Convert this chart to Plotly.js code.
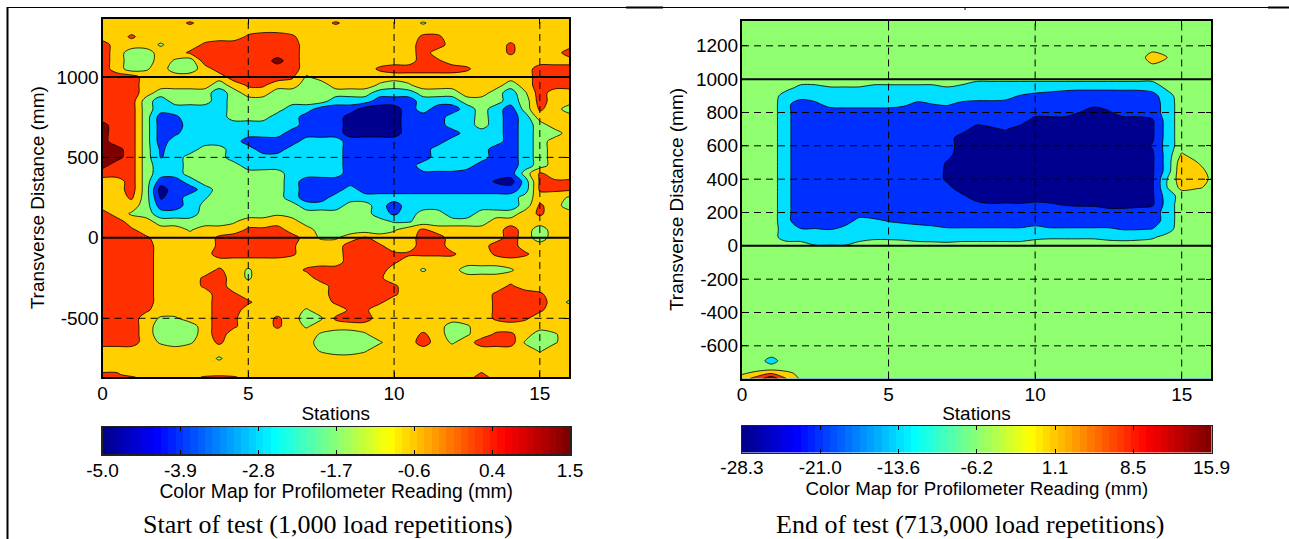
<!DOCTYPE html>
<html><head><meta charset="utf-8">
<script src="https://cdn.plot.ly/plotly-3.0.1.min.js"></script>
<style>html,body{margin:0;padding:0;background:#fff}#c{width:1289px;height:539px}</style></head>
<body><div id="c"></div>
<script>
const stations=[0,.5,1,1.5,2,2.5,3,3.5,4,4.5,5,5.5,6,6.5,7,7.5,8,8.5,9,9.5,10,10.5,11,11.5,12,12.5,13,13.5,14,14.5,15,15.5,16];
const yStart=[1365,1335,1300,1250,1200,1150,1100,1050,1000,950,900,850,800,750,700,650,600,550,500,450,400,350,300,250,200,150,100,50,0,-50,-100,-150,-200,-250,-300,-350,-400,-450,-500,-550,-600,-650,-700,-750,-800,-850,-865];
const zStart=[
[-.8,-.8,-.8,-.8,-.8,-.8,-.8,-.8,-.8,-.8,-.8,-.8,-.8,-.8,-.8,-.8,-.8,-.8,-.8,-.8,-.8,-.8,-.8,-.8,-.8,-.8,-.8,-.8,-.8,-.8,-.8,-.8,-.8],
[-.8,-.8,-.8,-.8,-.8,-.8,-.2,-.8,-.8,-.8,-.8,-.8,-.8,-.8,-.8,-.8,-.2,-.8,-.8,-.8,-.8,-.8,-1.4,-.8,-.8,-.8,-.8,-.8,-.8,-.8,-.8,-.8,-.8],
[-.8,-.8,-.8,-.8,-.8,-.8,-.8,-.8,-.8,-.8,-.8,-.8,-.8,-.8,-.8,-.8,-.8,-.8,-.8,-.8,-.8,-.8,-.8,-.8,-.8,-.8,-.8,-.8,-.8,-.8,-.8,-.8,-.8],
[-.8,-.8,-.2,-.8,-.8,-.8,-.8,-.8,-.8,-.8,-.2,.1,.1,-.2,-.8,-.8,-.8,-.8,-.8,-.8,-.8,-.8,-.2,-.2,-.8,-.8,-.8,-.8,-.8,-.8,-.8,-.8,-.8],
[.1,-.8,-.8,-.8,-1.4,-.8,-.8,-.2,.1,.1,.1,.1,.1,.1,-.8,-.8,-.8,-.8,-.8,-.8,-.8,-.8,.1,.1,-.8,-.8,-.8,-.8,-.2,-.8,-.8,-.8,-.8],
[.1,-.8,-1.8,-1.8,-.8,-.8,-.2,.1,.1,.1,.1,.1,.1,.1,-.8,-.8,-.8,-.8,-.8,-.8,-.8,-.8,.1,-.8,-.8,-.8,-.8,-.8,-.2,-.8,-.8,-.8,.1],
[.1,-.8,-1.8,-1.8,-.8,-1.4,-1.8,.1,.1,.1,.1,.1,.9,.1,-.8,-.8,-.8,-.8,-.8,-.8,-.8,-.8,.1,-.2,-.8,-.8,-.8,-.8,-.8,-.8,-.8,-.8,-.8],
[.1,-.8,-1.8,-1.4,-.8,-1.8,-1.8,-.8,.1,.1,.1,.1,.1,.1,-.8,-.8,-.8,-.8,-.8,-.2,.1,.1,.1,.1,.1,-.2,-.8,-.8,-.8,-.8,.1,.1,.1],
[.1,.1,.1,-.8,-.8,-.8,-.8,-.8,-.8,.1,.1,.1,.1,-.2,-1.4,-.8,-.8,-.8,-.8,-.8,-.8,-.8,-.8,-.8,-.8,-.8,-.8,-.8,-.8,-.8,.1,.1,.1],
[.1,.1,.1,-.8,-.8,-.8,-.8,-.8,-1.8,-.8,-.2,-.2,-.8,-.8,-1.8,-1.8,-.8,-.8,-.8,-1.4,-1.8,-1.4,-.8,-.8,-.8,-.8,-.8,-.8,-1.8,-.8,.1,.1,.1],
[.1,.1,.1,-.8,-1.8,-1.8,-1.8,-1.8,-2.7,-1.8,-.8,-.8,-1.8,-1.8,-1.8,-1.8,-1.8,-1.8,-1.8,-2.7,-2.7,-2.7,-1.8,-1.8,-1.8,-.8,-.8,-1.8,-2.7,-1.4,.1,-.8,-.8],
[.1,.1,.1,-1.8,-2.7,-1.8,-1.8,-1.8,-2.7,-1.8,-1.8,-1.8,-1.8,-1.8,-1.8,-1.8,-2.7,-2.7,-2.7,-3.6,-3.6,-3.6,-2.7,-2.7,-2.7,-1.8,-1.8,-1.8,-2.7,-1.8,.1,-.8,-.8],
[.1,.1,.1,-1.8,-2.7,-2.7,-2.7,-2.7,-2.7,-1.8,-1.8,-1.8,-1.8,-2.7,-2.7,-3.6,-3.6,-3.6,-4.5,-4.5,-4.5,-3.6,-2.7,-3.6,-3.6,-2.7,-1.8,-2.7,-3.6,-1.8,-.2,-.8,-1.8],
[.1,.1,.1,-1.8,-3.6,-3.3,-2.7,-2.7,-2.7,-1.8,-1.8,-1.8,-2.7,-2.7,-3.6,-3.6,-3.6,-4.5,-4.5,-4.5,-4.5,-3.6,-3.6,-3.6,-2.7,-2.7,-1.8,-2.7,-3.6,-2.7,-.8,-.8,-.8],
[.9,.1,.1,-1.8,-3.6,-3.6,-2.7,-2.7,-2.7,-2.7,-2.7,-2.7,-2.7,-2.7,-3.6,-3.6,-3.6,-4.5,-4.5,-4.5,-4.5,-3.6,-3.6,-3.6,-2.7,-2.7,-1.8,-2.7,-3.6,-2.7,-1.8,-.8,-.8],
[.9,.1,.1,-1.8,-3.6,-3.3,-2.7,-2.7,-2.7,-2.7,-2.7,-2.7,-2.7,-3.6,-3.6,-3.6,-3.6,-4.5,-4.5,-4.5,-4.5,-3.6,-3.6,-3.6,-3.6,-2.7,-2.7,-2.7,-3.6,-2.7,-1.8,-1.8,-.8],
[.9,.1,.1,-1.8,-3.6,-2.7,-2.7,-2.7,-2.7,-2.7,-3.6,-3.6,-3.6,-3.6,-2.7,-2.7,-2.7,-3.6,-3.6,-3.6,-3.6,-3.6,-3.6,-3.6,-2.7,-2.7,-2.7,-2.7,-3.6,-2.7,-1.8,-.8,-.8],
[.9,.9,.1,-1.8,-3.3,-2.7,-2.7,-1.8,-1.8,-2.7,-2.7,-3.6,-3.6,-2.7,-2.7,-2.7,-2.7,-3.6,-3.6,-3.6,-3.6,-3.6,-3.6,-2.7,-2.7,-2.7,-2.7,-3.6,-3.6,-2.7,-1.8,-.8,-.8],
[.9,.9,.1,-1.8,-3.2,-2.7,-1.8,-1.8,-1.8,-2.7,-2.7,-2.7,-2.7,-2.7,-2.7,-2.7,-2.7,-3.6,-3.6,-3.6,-3.6,-3.6,-3.6,-2.7,-2.7,-2.7,-2.7,-3.6,-3.6,-2.7,-1.8,-.8,-.8],
[.9,.1,.1,-1.8,-2.7,-2.7,-1.8,-1.8,-1.8,-1.8,-2.7,-2.7,-2.7,-2.7,-2.7,-2.7,-2.7,-3.6,-3.6,-3.6,-3.6,-3.6,-2.7,-2.7,-2.7,-2.7,-3.6,-3.6,-3.6,-2.7,-1.8,-.8,-.8],
[.1,.1,.1,-1.8,-2.7,-2.7,-1.8,-1.8,-1.8,-1.8,-1.8,-1.8,-1.8,-2.7,-2.7,-2.7,-2.7,-3.6,-3.6,-3.6,-3.6,-3.6,-3.3,-3.3,-3.3,-3.6,-3.6,-3.6,-3.6,-1.8,-.2,-.8,-.8],
[-.8,-.8,.1,-1.8,-3.6,-3.6,-2.7,-1.8,-1.8,-1.8,-1.8,-1.8,-1.8,-2.7,-3.6,-3.6,-3.6,-3.6,-3.6,-3.6,-3.6,-3.6,-3.6,-3.6,-3.6,-3.6,-3.6,-4.2,-4.5,-2.7,-.2,-.2,-.2],
[-.8,-.8,.1,-1.8,-4.5,-3.6,-3.6,-2.7,-1.8,-1.8,-1.8,-1.8,-1.8,-2.7,-3.6,-3.6,-3.6,-2.7,-3.6,-3.6,-3.6,-3.6,-3.6,-3.6,-3.6,-3.6,-3.6,-3.6,-3.6,-2.7,-.2,-.2,-.2],
[-.8,-.8,-.2,-1.8,-4.2,-3.6,-2.7,-2.3,-1.8,-1.8,-1.8,-1.8,-1.8,-2.7,-3.6,-3.6,-2.7,-2.7,-2.7,-2.7,-2.7,-2.7,-2.7,-2.7,-2.7,-2.7,-2.7,-2.7,-2.7,-1.8,-.8,-.8,-1.4],
[-.8,-.8,-.8,-1.8,-3.6,-3.6,-2.7,-2,-1.8,-1.8,-1.8,-1.8,-1.8,-1.8,-2.7,-2.7,-2.7,-1.8,-1.8,-2.7,-3.6,-2.7,-2.7,-2.7,-2.7,-2.7,-2.7,-2.7,-2.7,-1.8,-.2,-.8,-1.8],
[.1,-.8,-1.4,-1.8,-2.7,-2.7,-2.7,-1.8,-1.8,-1.8,-1.8,-1.8,-1.4,-1.8,-1.8,-1.8,-1.8,-1.8,-1.8,-2.7,-3.3,-2.7,-1.8,-1.8,-2.7,-2.7,-1.8,-1.8,-1.8,-.8,-.2,-.8,-.8],
[.1,.1,-.8,-.8,-1.8,-1.8,-1.8,-1.8,-1.8,-1.4,-.8,-.8,-.8,-.8,-1.8,-1.8,-1.8,-1.8,-1.8,-1.8,-2.3,-2.3,-1.8,-1.8,-1.8,-1.8,-1.8,-.8,-.8,-.8,-.8,-.8,-.8],
[.1,.1,-.2,-.8,-.8,-.8,-1.4,-.8,-.8,-.8,-.2,-.2,.1,-.8,-.8,-1.8,-1.8,-1.8,-1.8,-1.8,-1.4,-.8,-.2,-.8,-.8,-.8,-.8,-.8,.1,-.8,-1.8,-.8,-.8],
[.1,.1,.1,-.2,-.8,-.8,-.8,-.8,-.2,.1,.1,.1,.1,.1,-.8,-1.4,-1.4,-.8,-.2,-.8,-.8,-.8,.1,.1,-.8,-.8,-.8,-.8,.1,-.8,-1.8,-.8,-.8],
[.1,.1,.1,.1,-.8,-.8,-.8,-.8,-.2,.1,.1,.1,.1,-.2,-.8,-.8,-.8,.1,.1,-.2,-.8,-.8,.1,.1,-.8,-.8,-.8,.1,.1,-.8,-.8,-.8,-.8],
[.1,.1,.1,.1,-.8,-.8,-.8,-.8,.1,.1,.1,.1,.1,-.2,-.8,-.8,-.8,.1,.1,.1,-.2,-.2,-.2,-.2,-.2,-.8,-.8,-.2,.1,-.2,-.8,-.8,-.8],
[.1,.1,.1,.1,-.8,-.8,-.8,-.8,-.8,-.8,-.8,-.8,-.8,-.8,-.8,-.8,-.8,.1,.1,.1,-.2,-.8,-.8,-.8,-.8,-.8,-.8,-.8,-.8,-.8,-.8,-.8,-.8],
[.1,.1,.1,.1,-.8,-.8,-.8,-.8,-.2,-.8,-1.4,-.8,-.8,-.8,-.2,.1,.1,.1,.1,.1,-.8,-.8,-1.4,-.8,-.8,-1.8,-1.8,-1.8,-1.4,-.8,-.8,-.8,-.8],
[.1,.1,.1,.1,-.8,-.8,-.8,-.2,.1,-.8,-1.4,-.8,-.8,-.8,-.8,.1,.1,.1,.1,-.2,-.8,-.8,-.8,-.8,-.8,-.8,-.8,-.8,-.8,-.8,-.8,-.8,-.8],
[.1,.1,.1,.1,-.8,-.8,-.8,-.2,.1,-.8,-.8,-.8,-.8,-.8,-.8,-.8,.1,.1,.1,.1,-.2,-.8,-.8,-.8,-.8,-.8,-.8,-.8,-.2,-.8,-.8,-.8,-.8],
[.1,.1,.1,.1,-.8,-.8,-.8,-.8,.1,-.2,-.8,-.8,-.8,-.8,-.8,-.8,.1,.1,.1,.1,-.2,-.8,-.8,-.8,-.8,-.8,-.8,-.2,.1,.1,-.2,-.8,-.8],
[.1,.1,.1,.1,-.8,-.8,-.8,-.8,.1,.1,-.2,-.8,-.8,-.8,-.8,-.8,-.2,.1,.1,-.2,-.8,-.8,-.8,-.8,-.8,-.8,-.8,-.2,.1,.1,.1,-.8,-1.4],
[.1,.1,.1,-.2,-.8,-.8,-.8,-.8,.1,.1,-.8,-.8,-.8,-.8,-1.4,-.8,-.8,-.2,-.2,-.8,-.8,-.8,-.8,-.8,-.8,-.8,-.8,-.2,.1,.1,-.2,-.8,-.8],
[.1,.1,.1,-.8,-1.4,-1.4,-.8,-.8,.1,-.2,-.8,-.8,-.2,-.8,-1.8,-1.4,-.2,.1,.1,-.8,-.8,-.8,-.8,-.8,-.8,-.8,-.8,-.2,.1,-.2,-.8,-.8,-.8],
[.1,.1,.1,-.8,-1.8,-1.8,-1.8,-.8,.1,-.2,-.8,-.8,-.2,-.8,-1.4,-.8,-.8,-.8,-.8,-.8,-.8,-.8,-.8,-.8,-1.8,-1.4,-.8,-.8,-.8,-.8,-.8,-.8,-.8],
[.1,.1,.1,-.8,-1.8,-1.8,-1.8,-.8,.1,-.8,-.8,-.8,-.8,-.8,-.8,-1.4,-1.8,-1.8,-1.4,-.8,-.8,-.8,-.2,-.8,-1.8,-1.4,-.8,-.2,-.2,-.8,-1.8,-1.4,-.8],
[.1,.1,.1,-.8,-1.4,-1.8,-1.4,-.8,-.2,-.8,-.8,-.8,-.8,-.8,-.8,-1.8,-1.8,-1.8,-1.8,-1.4,-.8,-.8,.1,-.8,-1.4,-.8,.1,.1,.1,-1.4,-1.8,-1.4,-.8],
[-.8,-.8,-.8,-.8,-.8,-.8,-.8,-.8,-.8,-.8,-.8,-.8,-.8,-.8,-.8,-1.4,-1.8,-1.8,-1.4,-.8,-.8,-.8,-.8,-.8,-.8,-.8,-.8,-.8,-.8,-.8,-1.4,-.8,-.8],
[-.8,-.8,-.8,-.8,-.8,-.8,-.8,-.8,-1.4,-.8,-.8,-.8,-.8,-.8,-.8,-.8,-.8,-.8,-.8,-.8,-.8,-.8,-.8,-.8,-.8,-.8,-.8,-.8,-.8,-.8,-.8,-.8,-.8],
[-.8,-.8,-.8,-.8,-.8,-.8,-.8,-.8,-.8,-.8,-.8,-.8,-.8,-.8,-.8,-.8,-.8,-.8,-.8,-.8,-.8,-.8,-.8,-.8,-.8,-.8,-.8,-.8,-.8,-.8,-.8,-.8,-.8],
[-.2,-.2,-.8,-.8,-.8,-.8,-.8,-.8,-.8,-.8,-.8,-.8,-.8,-.8,-.8,-.8,-.8,-.8,-.8,-.8,-.8,-.8,-.8,-.8,-.8,-.8,-.2,-.8,-.8,-.8,-.8,-.8,-.8],
[.1,.1,-.2,-.8,-.8,-.8,-.8,-.2,.1,-.2,-.8,-.8,-.8,-.8,-.8,-.8,-.8,-.8,-.8,-.8,-.8,-.8,-.8,-.8,-.8,-.8,.1,-.8,-.8,-.8,-.8,-.8,-.8]
];
const yEnd=[1352,1200,1130,1050,1000,950,900,850,800,750,700,650,600,550,500,450,400,350,300,250,200,150,100,50,0,-50,-640,-690,-735,-765,-796];
const zBg=[-6,-6,-6,-6,-6,-6,-6,-6,-6,-6,-6,-6,-6,-6,-6,-6,-6,-6,-6,-6,-6,-6,-6,-6,-6,-6,-6,-6,-6,-6,-6,-6,-6];
const zEnd=[
zBg,zBg,
[-6,-6,-6,-6,-6,-6,-6,-6,-6,-6,-6,-6,-6,-6,-6,-6,-6,-6,-6,-6,-6,-6,-6,-6,-6,-6,-6,-6,-.4,-2.9,-6,-6,-6],
zBg,
[-6,-6,-6,-6,-6,-6,-6,-6,-6,-6,-6,-6,-6,-6,-6,-6,-8,-8,-8,-8,-8,-8,-8,-8,-8,-8,-8,-8,-8,-6,-6,-6,-6],
[-6,-6,-6,-7,-11,-11,-9.6,-9.6,-9.6,-11,-11,-11,-11,-11,-9.6,-11,-13,-13,-13,-13,-13,-13,-13,-13,-13,-13,-13,-13,-13,-8,-6,-6,-6],
[-6,-6,-6,-12.5,-13,-12.5,-12.5,-12.5,-12.5,-12.5,-12.5,-12.5,-12.5,-12.5,-12.5,-12.5,-12.5,-12.5,-12.5,-16,-17,-18,-20,-21.5,-21.5,-21.5,-21,-21,-18,-12,-6,-6,-6],
[-6,-6,-6,-14,-19,-17,-13.5,-13,-13,-13,-13,-14.5,-17,-15.7,-15,-17,-18,-18,-19,-19,-19,-19,-19,-19,-20.5,-19,-19,-19,-19,-13,-6,-6,-6],
[-6,-6,-6,-14,-19,-19,-19,-19,-19,-19,-19,-19,-19,-19,-19,-19,-19,-19,-19,-19,-19,-19,-19,-22,-25,-23,-19,-19,-19,-13,-6,-6,-6],
[-6,-6,-6,-14,-19,-19,-19,-19,-19,-19,-19,-19,-19,-19,-19,-19,-19,-19,-19,-19,-25,-25,-25,-25,-25,-25,-25,-25,-23,-13,-6,-6,-6],
[-6,-6,-6,-14,-19,-19,-19,-19,-19,-19,-19,-19,-19,-19,-19,-19,-25,-23,-21.5,-25,-25,-25,-25,-25,-25,-25,-25,-25,-23,-13,-6,-6,-6],
[-6,-6,-6,-14,-19,-19,-19,-19,-19,-19,-19,-19,-19,-19,-19,-25,-25,-25,-25,-25,-25,-25,-25,-25,-25,-25,-25,-25,-23,-13,-6,-6,-6],
[-6,-6,-6,-14,-19,-19,-19,-19,-19,-19,-19,-19,-19,-19,-19,-25,-25,-25,-25,-25,-25,-25,-25,-25,-25,-25,-25,-25,-21.5,-13,-6,-6,-6],
[-6,-6,-6,-14,-19,-19,-19,-19,-19,-19,-19,-19,-19,-19,-20,-25,-25,-25,-25,-25,-25,-25,-25,-25,-25,-25,-25,-25,-23,-13,-2.5,-6,-6],
[-6,-6,-6,-14,-19,-19,-19,-19,-19,-19,-19,-19,-19,-19,-22.5,-25,-25,-25,-25,-25,-25,-25,-25,-25,-25,-25,-25,-25,-23,-13,1,-2.8,-5],
[-6,-6,-6,-14,-19,-19,-19,-19,-19,-19,-19,-19,-19,-19,-23,-25,-25,-25,-25,-25,-25,-25,-25,-25,-25,-25,-25,-25,-23,-13,2,0,-5],
[-6,-6,-6,-14,-19,-19,-19,-19,-19,-19,-19,-19,-19,-19,-23,-25,-25,-25,-25,-25,-25,-25,-25,-25,-25,-25,-25,-25,-23,-9.5,1,1,-4],
[-6,-6,-6,-14,-19,-19,-19,-19,-19,-19,-19,-19,-19,-19,-20.5,-25,-25,-25,-25,-25,-25,-25,-25,-25,-25,-25,-25,-25,-23,-9.5,-1,-2.5,-3.8],
[-6,-6,-6,-14,-19,-19,-19,-19,-19,-19,-19,-19,-19,-19,-19,-21,-25,-25,-25,-25,-25,-25,-25,-25,-25,-25,-25,-25,-23,-12.5,-7,-6,-6],
[-6,-6,-6,-14,-19,-19,-19,-19,-19,-19,-19,-19,-19,-19,-19,-19,-20.5,-21.7,-21.5,-21.7,-21,-21.5,-22.5,-23,-23,-25,-25,-24,-23,-13,-6,-6,-6],
[-6,-6,-6,-14,-19,-19,-19,-19,-19,-19,-19,-19,-19,-19,-19,-19,-19,-19,-19,-19,-19,-19,-19,-19,-19,-19,-19,-19,-19,-13,-6,-6,-6],
[-6,-6,-6,-14,-19,-19,-19,-19,-13.5,-14.5,-16,-17,-18,-19,-19,-19,-19,-19,-19,-19,-19,-19,-19,-19,-19,-19,-19,-19,-19,-13,-6,-6,-6],
[-6,-6,-6,-13,-15.4,-15.4,-16,-13.5,-12.5,-12.5,-12.5,-12.5,-13,-13.5,-15,-15,-15,-15,-15,-15,-13.5,-15,-15,-15,-15,-15,-16,-16,-15.5,-12,-6,-6,-6],
[-6,-6,-7,-12,-12.5,-12.5,-12.5,-12.5,-12.5,-10.5,-10.5,-11,-12.5,-13,-14,-12.5,-12.5,-12.5,-12.5,-12.5,-10.5,-10,-10,-10,-10,-11,-11.5,-11,-10,-7,-6,-6,-6],
[-6,-6,-6,-6,-6,-9.1,-9.1,-9.1,-6,-6,-6,-6,-6,-6,-6,-6,-6,-6,-6,-6,-6,-6,-6,-6,-6,-6,-6,-6,-6,-6,-6,-6,-6],
zBg,zBg,
[-6,-6,-12,-6,-6,-6,-6,-6,-6,-6,-6,-6,-6,-6,-6,-6,-6,-6,-6,-6,-6,-6,-6,-6,-6,-6,-6,-6,-6,-6,-6,-6,-6],
zBg,
[-4,-1,3,-1,-5,-6,-6,-6,-6,-6,-6,-6,-6,-6,-6,-6,-6,-6,-6,-6,-6,-6,-6,-6,-6,-6,-6,-6,-6,-6,-6,-6,-6],
[0,6,14,3.5,-4,-6,-6,-6,-6,-6,-6,-6,-6,-6,-6,-6,-6,-6,-6,-6,-6,-6,-6,-6,-6,-6,-6,-6,-6,-6,-6,-6,-6]
];
const stationTicks=[0,5,10,15];
const yTicksStart=[-500,0,500,1000];
const yTicksEnd=[-600,-400,-200,0,200,400,600,800,1000,1200];
const solidY=[0,1000];
const barTicksStart=[-5,-3.917,-2.833,-1.75,-.667,.417,1.5];
const barLabelsStart=['-5.0','-3.9','-2.8','-1.7','-0.6','0.4','1.5'];
const barTicksEnd=[-28.3,-20.93,-13.57,-6.2,1.17,8.53,15.9];
const barLabelsEnd=['-28.3','-21.0','-13.6','-6.2','1.1','8.5','15.9'];
const bandColors=['#00008f','#0030ff','#00dfff','#8fff70','#ffcf00','#ff3000','#800000'];
const jetStops=[[0,'rgb(0,0,143)'],[.11,'rgb(0,0,255)'],[.365,'rgb(0,255,255)'],[.615,'rgb(255,255,0)'],[.865,'rgb(255,0,0)'],[1,'rgb(128,0,0)']];

const W=1289,H=539,fx=p=>p/W,fy=p=>1-p/H;
const family='"Liberation Sans",Arial,sans-serif';
const font={family,size:19,color:'#000'};
const stepped=bandColors.map((c,i)=>[i/(bandColors.length-1),c]);
function contourTrace(xa,ya,y,z,start,end,size){
  return {type:'contour',xaxis:xa,yaxis:ya,x:stations,y:y.slice().reverse(),z:z.slice().reverse(),
    autocontour:false,contours:{start,end,size,coloring:'fill',showlines:true},
    line:{color:'#000',width:.8,smoothing:.9},colorscale:stepped,showscale:false,hoverinfo:'skip'};
}
function barTrace(xa,ya,lo,hi){
  const n=64,xs=[],zs=[];
  for(let k=0;k<n;k++){xs.push(lo+(k+.5)*(hi-lo)/n);zs.push(k);}
  return {type:'heatmap',xaxis:xa,yaxis:ya,x:xs,y:[0],z:[zs],zmin:0,zmax:n-1,colorscale:jetStops,showscale:false,hoverinfo:'skip'};
}
const axisBase={showline:true,linecolor:'#000',linewidth:2,mirror:'allticks',ticks:'inside',ticklen:5,tickwidth:1,tickcolor:'#000',showgrid:false,zeroline:false,tickfont:font};
function plotAxes(l,r,t,b,xr,yr,yt,xStand){
  return [
   Object.assign({},axisBase,{domain:[fx(l),fx(r)],range:xr,tickmode:'array',tickvals:stationTicks,ticktext:stationTicks.map(String),ticklabelstandoff:-2,
     title:{text:'Stations',font,standoff:xStand}}),
   Object.assign({},axisBase,{domain:[fy(b),fy(t)],range:yr,tickmode:'array',tickvals:yt,ticktext:yt.map(String),ticklabelstandoff:-2,
     title:{text:'Transverse Distance (mm)',font,standoff:7}})
  ];
}
function barAxes(l,r,t,b,lo,hi,tv,tt,size,stand){
  return [
   Object.assign({},axisBase,{domain:[fx(l),fx(r)],range:[lo,hi],tickmode:'array',tickvals:tv,ticktext:tt,linewidth:1.5,linecolor:'#222',ticklen:4,ticklabelstandoff:stand,
     title:{text:'Color Map for Profilometer Reading (mm)',font:{family,size,color:'#000'},standoff:2}}),
   {domain:[fy(b),fy(t)],range:[-.5,.5],showticklabels:false,ticks:'',showgrid:false,zeroline:false,showline:true,linecolor:'#222',linewidth:1.5,mirror:true}
  ];
}
const [xa1,ya1]=plotAxes(102.5,569,18.5,377,[0,16],[-865,1363],yTicksStart,4);
const [xa2,ya2]=plotAxes(742,1211,20.5,378.5,[0,16],[-796,1352],yTicksEnd,2);
const [xa3,ya3]=barAxes(102.5,570,427,454,-5,1.5,barTicksStart,barLabelsStart,19.3,-1);
const [xa4,ya4]=barAxes(742,1211.5,426,452.5,-28.3,15.9,barTicksEnd,barLabelsEnd,18.7,-3);

const shapes=[];
const dash='7px,5px';
function addLines(xr,yr,sx,dashY,dashX){
  const ax=sx==='x'?'y':'y2';
  dashX.forEach(v=>shapes.push({type:'line',layer:'above',xref:sx,yref:ax,x0:v,x1:v,y0:yr[0],y1:yr[1],line:{color:'#000',width:1,dash}}));
  dashY.forEach(v=>shapes.push({type:'line',layer:'above',xref:sx,yref:ax,x0:xr[0],x1:xr[1],y0:v,y1:v,line:{color:'#000',width:1,dash}}));
  solidY.forEach(v=>shapes.push({type:'line',layer:'above',xref:sx,yref:ax,x0:xr[0],x1:xr[1],y0:v,y1:v,line:{color:'#000',width:2}}));
}
addLines([0,16],[-865,1363],'x',yTicksStart.filter(v=>!solidY.includes(v)),stationTicks.slice(1));
addLines([0,16],[-796,1352],'x2',yTicksEnd.filter(v=>!solidY.includes(v)),stationTicks.slice(1));
function pline(x0,y0,x1,y1,w){shapes.push({type:'line',xref:'paper',yref:'paper',x0:fx(x0),x1:fx(x1),y0:fy(y0),y1:fy(y1),line:{color:'#000',width:w}});}
pline(7.5,7,7.5,539,2);
pline(7,7.5,626,7.5,1);
pline(626,7.5,663,7.5,2);
pline(663,7.5,1268,7.5,1);
pline(1268,7.5,1289,7.5,2);
pline(965,8,965,10,1);

const capFont={family:'"Liberation Serif","Times New Roman",serif',size:26,color:'#000'};
const layout={width:W,height:H,margin:{l:0,r:0,t:0,b:0},paper_bgcolor:'#fff',plot_bgcolor:'#fff',showlegend:false,font,
 xaxis:Object.assign(xa1,{anchor:'y'}),yaxis:Object.assign(ya1,{anchor:'x'}),
 xaxis2:Object.assign(xa2,{anchor:'y2'}),yaxis2:Object.assign(ya2,{anchor:'x2'}),
 xaxis3:Object.assign(xa3,{anchor:'y3'}),yaxis3:Object.assign(ya3,{anchor:'x3'}),
 xaxis4:Object.assign(xa4,{anchor:'y4'}),yaxis4:Object.assign(ya4,{anchor:'x4'}),
 shapes,
 annotations:[
  {xref:'paper',yref:'paper',x:fx(328),y:fy(524),text:'Start of test (1,000 load repetitions)',showarrow:false,font:capFont,xanchor:'center',yanchor:'middle',borderpad:0},
  {xref:'paper',yref:'paper',x:fx(970),y:fy(524),text:'End of test (713,000 load repetitions)',showarrow:false,font:capFont,xanchor:'center',yanchor:'middle',borderpad:0}
 ]};
const data=[
 contourTrace('x','y',yStart,zStart,-4.07,.6,.93),
 contourTrace('x2','y2',yEnd,zEnd,-21.99,9.6,6.316),
 barTrace('x3','y3',-5,1.5),
 barTrace('x4','y4',-28.3,15.9)
];
Plotly.newPlot('c',data,layout,{displayModeBar:false,staticPlot:true});
</script></body></html>
